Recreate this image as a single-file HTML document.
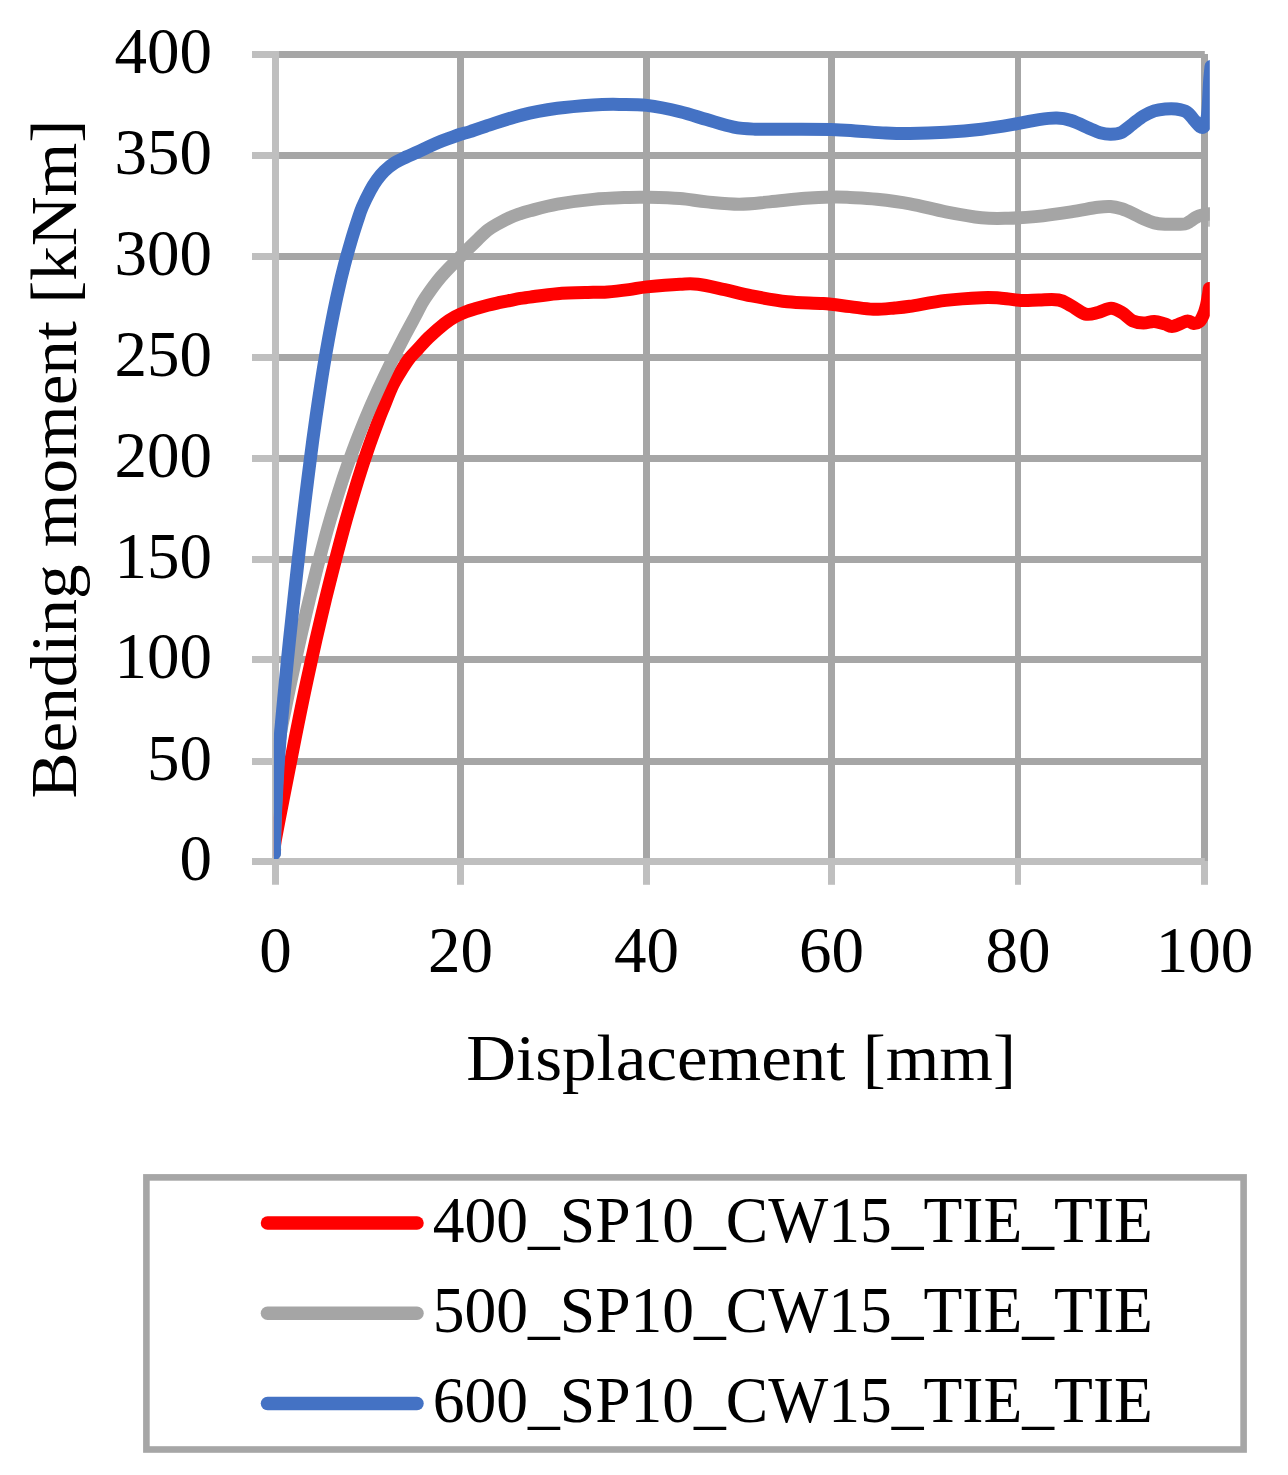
<!DOCTYPE html>
<html><head><meta charset="utf-8"><title>Chart</title>
<style>html,body{margin:0;padding:0;background:#fff}body{width:1288px;height:1475px;overflow:hidden;font-family:"Liberation Serif",serif}svg{display:block}</style>
</head><body>
<svg width="1288" height="1475" viewBox="0 0 1288 1475">
<rect width="1288" height="1475" fill="#fff"/>
<defs><clipPath id="pc"><rect x="273.9" y="40" width="935.9" height="819"/></clipPath></defs>
<line x1="275.5" y1="761.50" x2="1204.8" y2="761.50" stroke="#a6a6a6" stroke-width="7.0"/>
<line x1="275.5" y1="659.50" x2="1204.8" y2="659.50" stroke="#a6a6a6" stroke-width="7.0"/>
<line x1="275.5" y1="559.50" x2="1204.8" y2="559.50" stroke="#a6a6a6" stroke-width="7.0"/>
<line x1="275.5" y1="458.50" x2="1204.8" y2="458.50" stroke="#a6a6a6" stroke-width="7.0"/>
<line x1="275.5" y1="357.50" x2="1204.8" y2="357.50" stroke="#a6a6a6" stroke-width="7.0"/>
<line x1="275.5" y1="256.50" x2="1204.8" y2="256.50" stroke="#a6a6a6" stroke-width="7.0"/>
<line x1="275.5" y1="155.50" x2="1204.8" y2="155.50" stroke="#a6a6a6" stroke-width="7.0"/>
<line x1="275.5" y1="54.50" x2="1204.8" y2="54.50" stroke="#a6a6a6" stroke-width="7.0"/>
<line x1="460.50" y1="54.0" x2="460.50" y2="861.0" stroke="#a6a6a6" stroke-width="7.0"/>
<line x1="646.50" y1="54.0" x2="646.50" y2="861.0" stroke="#a6a6a6" stroke-width="7.0"/>
<line x1="831.50" y1="54.0" x2="831.50" y2="861.0" stroke="#a6a6a6" stroke-width="7.0"/>
<line x1="1018.00" y1="54.0" x2="1018.00" y2="861.0" stroke="#a6a6a6" stroke-width="6.0"/>
<line x1="1204.50" y1="54.0" x2="1204.50" y2="861.0" stroke="#a6a6a6" stroke-width="7.0"/>
<line x1="275.50" y1="51.0" x2="275.50" y2="884.8" stroke="#bfbfbf" stroke-width="7.0"/>
<line x1="252.0" y1="861.50" x2="1204.8" y2="861.50" stroke="#bfbfbf" stroke-width="7.0"/>
<line x1="252" y1="761.50" x2="275.5" y2="761.50" stroke="#bfbfbf" stroke-width="7.0"/>
<line x1="252" y1="659.50" x2="275.5" y2="659.50" stroke="#bfbfbf" stroke-width="7.0"/>
<line x1="252" y1="559.50" x2="275.5" y2="559.50" stroke="#bfbfbf" stroke-width="7.0"/>
<line x1="252" y1="458.50" x2="275.5" y2="458.50" stroke="#bfbfbf" stroke-width="7.0"/>
<line x1="252" y1="357.50" x2="275.5" y2="357.50" stroke="#bfbfbf" stroke-width="7.0"/>
<line x1="252" y1="256.50" x2="275.5" y2="256.50" stroke="#bfbfbf" stroke-width="7.0"/>
<line x1="252" y1="155.50" x2="275.5" y2="155.50" stroke="#bfbfbf" stroke-width="7.0"/>
<line x1="252" y1="54.50" x2="275.5" y2="54.50" stroke="#bfbfbf" stroke-width="7.0"/>
<line x1="460.50" y1="858.0" x2="460.50" y2="884.8" stroke="#bfbfbf" stroke-width="7.0"/>
<line x1="646.50" y1="858.0" x2="646.50" y2="884.8" stroke="#bfbfbf" stroke-width="7.0"/>
<line x1="831.50" y1="858.0" x2="831.50" y2="884.8" stroke="#bfbfbf" stroke-width="7.0"/>
<line x1="1018.00" y1="858.0" x2="1018.00" y2="884.8" stroke="#bfbfbf" stroke-width="6.0"/>
<line x1="1204.50" y1="861.0" x2="1204.50" y2="884.8" stroke="#bfbfbf" stroke-width="7.0"/>
<g clip-path="url(#pc)" fill="none" stroke-linecap="round" stroke-linejoin="round" stroke-width="13.0">
<path d="M274.6 850.0C274.7 848.5 273.8 849.3 275.2 841.0C276.6 832.7 280.4 813.5 283.0 800.0C285.6 786.5 288.3 773.3 290.9 760.0C293.5 746.7 296.1 733.3 298.8 720.0C301.5 706.7 304.2 693.3 307.1 680.0C310.0 666.7 312.9 653.3 315.9 640.0C318.9 626.7 322.1 613.3 325.3 600.0C328.6 586.7 331.9 573.3 335.4 560.0C338.9 546.7 342.4 533.3 346.1 520.0C349.9 506.7 354.3 491.7 357.9 480.0C361.5 468.3 364.2 460.0 367.7 450.0C371.1 440.0 375.9 427.2 378.6 420.0C381.3 412.8 381.4 412.8 383.8 407.0C386.2 401.2 389.7 391.6 392.8 385.2C395.9 378.8 399.5 373.4 402.3 368.9C405.1 364.4 407.1 361.3 409.7 358.0C412.3 354.7 414.6 352.6 417.8 349.2C421.0 345.8 424.3 341.7 428.7 337.5C433.1 333.3 439.9 327.3 444.3 323.8C448.7 320.3 451.6 318.6 455.2 316.6C458.8 314.6 462.5 313.1 466.1 311.7C469.7 310.3 473.4 309.3 477.0 308.2C480.6 307.1 484.2 306.1 487.8 305.2C491.4 304.3 495.1 303.5 498.7 302.7C502.3 301.9 506.0 301.2 509.6 300.5C513.2 299.8 517.0 299.0 520.4 298.4C523.8 297.8 523.8 297.9 530.0 297.1C536.2 296.3 546.9 294.5 557.4 293.7C567.9 292.9 584.9 292.6 593.2 292.3C601.6 292.0 601.5 292.4 607.5 292.0C613.5 291.6 622.4 290.5 629.0 289.6C635.6 288.8 638.4 287.8 646.9 286.9C655.4 286.0 671.5 284.6 680.0 284.2C688.5 283.8 690.4 283.3 697.9 284.2C705.4 285.1 715.8 287.7 724.7 289.6C733.7 291.6 741.2 293.9 751.6 295.9C762.0 297.9 775.5 300.5 787.4 301.8C799.3 303.1 812.8 302.8 823.2 303.6C833.6 304.4 841.6 305.7 850.0 306.6C858.4 307.6 865.8 309.1 873.3 309.3C880.8 309.5 888.7 308.5 894.8 308.0C900.9 307.5 901.5 307.6 910.0 306.3C918.5 305.0 933.9 301.8 945.8 300.4C957.7 299.0 972.6 298.1 981.6 297.7C990.6 297.3 992.9 297.6 999.5 298.0C1006.1 298.4 1014.4 300.1 1021.0 300.4C1027.6 300.7 1032.6 300.1 1038.9 300.0C1045.2 299.9 1053.2 299.1 1058.6 300.0C1064.0 300.9 1066.6 303.3 1071.1 305.7C1075.6 308.1 1080.9 313.0 1085.4 314.1C1089.9 315.2 1093.7 313.5 1098.0 312.5C1102.3 311.5 1107.0 308.3 1111.0 308.3C1115.0 308.3 1118.4 310.5 1122.0 312.6C1125.6 314.7 1129.0 319.1 1132.6 320.8C1136.2 322.5 1139.9 322.9 1143.5 323.0C1147.1 323.1 1150.7 321.2 1154.3 321.4C1157.9 321.6 1162.1 323.2 1165.2 324.0C1168.3 324.8 1169.2 326.9 1172.8 326.4C1176.4 325.9 1183.5 321.6 1187.0 321.1C1190.5 320.6 1191.4 323.3 1193.5 323.4C1195.6 323.5 1197.8 323.0 1199.5 321.5C1201.2 320.0 1202.3 317.2 1203.5 314.5C1204.7 311.8 1205.7 308.1 1206.5 305.0C1207.3 301.9 1207.7 298.8 1208.2 296.0C1208.7 293.2 1209.1 289.8 1209.3 288.5" stroke="#ff0000"/>
<path d="M274.5 853.5C274.6 849.6 274.5 840.6 274.8 830.0C275.1 819.4 275.5 804.8 276.3 790.0C277.1 775.2 277.9 754.3 279.4 741.0C280.9 727.7 283.1 720.2 285.1 710.0C287.1 699.8 288.7 691.7 291.2 680.0C293.7 668.3 296.9 653.3 299.9 640.0C302.9 626.7 306.0 613.3 309.2 600.0C312.4 586.7 315.6 573.3 319.1 560.0C322.6 546.7 326.2 533.3 330.1 520.0C334.0 506.7 338.7 491.7 342.5 480.0C346.3 468.3 349.4 460.0 353.1 450.0C356.8 440.0 360.8 430.0 364.9 420.0C369.0 410.0 373.4 400.0 378.0 390.0C382.6 380.0 387.8 369.2 392.3 360.0C396.8 350.8 401.2 342.5 405.1 335.0C409.0 327.5 412.6 321.1 415.9 315.0C419.2 308.9 420.6 305.0 424.8 298.7C429.0 292.4 434.8 284.1 440.8 277.0C446.8 269.9 454.7 262.4 460.7 256.3C466.7 250.2 472.5 244.5 477.0 240.2C481.5 235.8 484.2 233.0 487.8 230.2C491.4 227.4 495.1 225.5 498.7 223.4C502.3 221.3 506.0 219.3 509.6 217.7C513.2 216.1 517.0 214.8 520.4 213.6C523.8 212.4 523.8 212.4 530.0 210.8C536.2 209.2 546.9 206.1 557.4 204.2C567.9 202.3 581.3 200.5 593.2 199.4C605.1 198.3 620.0 197.8 629.0 197.4C638.0 197.1 638.4 197.1 646.9 197.3C655.4 197.5 670.0 197.8 680.0 198.6C690.0 199.4 696.9 201.0 706.8 201.9C716.6 202.8 728.6 204.2 739.1 204.2C749.6 204.2 758.5 202.9 769.5 201.9C780.5 200.9 794.9 199.1 805.3 198.3C815.7 197.5 824.6 197.2 832.1 197.1C839.6 196.9 842.5 197.1 850.0 197.4C857.5 197.8 866.9 198.1 876.9 199.2C886.9 200.3 898.5 201.7 910.0 203.8C921.5 205.9 933.9 209.5 945.8 211.8C957.7 214.1 971.2 216.6 981.6 217.7C992.0 218.8 999.5 218.4 1008.4 218.2C1017.3 218.0 1024.8 217.7 1035.3 216.6C1045.8 215.5 1060.7 213.4 1071.1 211.8C1081.5 210.2 1091.3 208.2 1097.9 207.3C1104.5 206.4 1106.5 206.2 1110.5 206.5C1114.5 206.8 1118.0 207.7 1121.7 208.8C1125.4 210.0 1129.0 211.7 1132.6 213.4C1136.2 215.1 1139.9 217.2 1143.5 218.8C1147.1 220.4 1150.7 222.0 1154.3 222.9C1157.9 223.8 1161.6 224.0 1165.2 224.2C1168.8 224.4 1172.8 224.2 1176.1 224.2C1179.4 224.2 1182.4 224.5 1184.8 224.0C1187.2 223.5 1188.4 222.4 1190.2 221.3C1192.0 220.2 1193.9 218.5 1195.7 217.5C1197.5 216.5 1198.6 215.8 1201.1 215.2C1203.6 214.6 1208.9 214.2 1210.5 214.0" stroke="#a5a5a5"/>
<path d="M274.5 853.5C274.5 851.6 274.4 847.6 274.5 842.0C274.6 836.4 274.9 827.0 275.2 820.0C275.5 813.0 275.6 810.0 276.2 800.0C276.8 790.0 277.6 773.3 278.5 760.0C279.4 746.7 280.5 733.3 281.7 720.0C282.9 706.7 284.2 693.3 285.5 680.0C286.8 666.7 288.1 653.3 289.5 640.0C290.9 626.7 292.4 613.3 293.8 600.0C295.2 586.7 296.7 573.3 298.2 560.0C299.7 546.7 301.2 533.3 302.8 520.0C304.4 506.7 306.0 493.3 307.7 480.0C309.4 466.7 311.0 453.3 312.8 440.0C314.6 426.7 316.5 413.3 318.5 400.0C320.5 386.7 322.5 373.3 324.8 360.0C327.1 346.7 329.8 331.7 332.1 320.0C334.4 308.3 336.3 299.2 338.4 290.0C340.4 280.8 342.2 273.3 344.4 265.0C346.6 256.7 349.2 247.5 351.4 240.0C353.6 232.5 355.9 225.5 357.7 220.0C359.5 214.5 360.2 211.9 362.3 207.0C364.4 202.1 367.8 195.2 370.2 190.7C372.6 186.2 374.6 183.1 377.0 179.8C379.4 176.5 381.3 174.0 384.3 171.1C387.3 168.2 391.6 164.9 395.2 162.6C398.8 160.2 402.5 158.7 406.1 157.0C409.7 155.3 413.4 153.9 417.0 152.3C420.6 150.7 424.2 148.9 427.8 147.2C431.4 145.5 435.1 143.8 438.7 142.3C442.3 140.8 446.0 139.5 449.6 138.2C453.2 136.9 457.0 135.4 460.4 134.3C463.8 133.2 465.8 132.9 470.0 131.6C474.2 130.2 477.2 128.9 485.8 126.2C494.4 123.5 509.7 118.1 521.6 115.1C533.5 112.1 545.5 110.0 557.4 108.3C569.3 106.6 582.8 105.6 593.2 104.9C603.6 104.2 611.0 104.3 620.0 104.4C629.0 104.5 636.9 104.2 646.9 105.4C656.9 106.6 670.0 109.3 680.0 111.7C690.0 114.1 697.8 117.0 706.8 119.6C715.8 122.2 725.6 125.5 733.7 127.1C741.8 128.7 746.2 128.8 755.2 129.2C764.2 129.5 774.7 129.2 787.4 129.2C800.1 129.2 819.3 129.1 831.2 129.4C843.1 129.7 849.9 130.6 859.0 131.2C868.1 131.8 877.3 132.6 885.8 133.0C894.3 133.4 900.0 133.6 910.0 133.5C920.0 133.4 933.9 133.0 945.8 132.3C957.7 131.6 969.7 130.6 981.6 129.2C993.5 127.8 1007.8 125.3 1017.4 123.7C1027.0 122.1 1032.3 120.5 1038.9 119.6C1045.5 118.7 1051.4 117.9 1056.8 118.1C1062.2 118.2 1065.7 118.8 1071.1 120.5C1076.5 122.2 1084.2 126.1 1089.0 128.2C1093.8 130.2 1096.3 131.8 1100.0 132.8C1103.7 133.8 1107.3 134.4 1110.9 134.3C1114.5 134.2 1118.1 134.0 1121.7 132.3C1125.3 130.6 1129.0 126.8 1132.6 124.1C1136.2 121.4 1139.9 118.2 1143.5 116.0C1147.1 113.8 1150.7 112.1 1154.3 110.9C1157.9 109.7 1161.6 109.3 1165.2 109.0C1168.8 108.7 1172.5 108.5 1176.1 109.0C1179.7 109.5 1183.9 110.2 1187.0 112.2C1190.1 114.2 1192.4 118.3 1194.6 120.7C1196.8 123.1 1198.5 125.5 1200.0 126.5C1201.5 127.5 1202.4 127.9 1203.5 127.0C1204.6 126.1 1205.8 123.8 1206.5 121.0C1207.2 118.2 1207.5 116.4 1208.0 110.0C1208.5 103.6 1209.0 89.8 1209.5 82.6C1210.0 75.3 1210.8 69.2 1211.0 66.5" stroke="#4472c4"/>
<rect x="1208.3" y="207.2" width="1.5" height="19.5" fill="#a5a5a5"/>
</g>
<g font-family="'Liberation Serif', serif" font-size="65" fill="#000">
<text x="212.0" y="880.3" text-anchor="end">0</text>
<text x="212.0" y="780.3" text-anchor="end">50</text>
<text x="212.0" y="678.3" text-anchor="end">100</text>
<text x="212.0" y="578.3" text-anchor="end">150</text>
<text x="212.0" y="477.3" text-anchor="end">200</text>
<text x="212.0" y="376.3" text-anchor="end">250</text>
<text x="212.0" y="275.3" text-anchor="end">300</text>
<text x="212.0" y="174.3" text-anchor="end">350</text>
<text x="212.0" y="73.3" text-anchor="end">400</text>
<text x="275.5" y="972.2" text-anchor="middle">0</text>
<text x="460.5" y="972.2" text-anchor="middle">20</text>
<text x="646.5" y="972.2" text-anchor="middle">40</text>
<text x="831.5" y="972.2" text-anchor="middle">60</text>
<text x="1018.0" y="972.2" text-anchor="middle">80</text>
<text x="1204.5" y="972.2" text-anchor="middle">100</text>
<text x="466.3" y="1079.5" textLength="549.6" lengthAdjust="spacingAndGlyphs">Displacement [mm]</text>
<text transform="translate(75.5,798.5) rotate(-90)" textLength="678.8" lengthAdjust="spacingAndGlyphs">Bending moment [kNm]</text>
<line x1="267.5" y1="1223.1" x2="417" y2="1223.1" stroke="#ff0000" stroke-width="13.5" stroke-linecap="round"/>
<text x="432.7" y="1241.9" textLength="720.2" lengthAdjust="spacingAndGlyphs">400_SP10_CW15_TIE_TIE</text>
<line x1="267.5" y1="1313.2" x2="417" y2="1313.2" stroke="#a5a5a5" stroke-width="13.5" stroke-linecap="round"/>
<text x="432.7" y="1332.0" textLength="720.2" lengthAdjust="spacingAndGlyphs">500_SP10_CW15_TIE_TIE</text>
<line x1="267.5" y1="1403.4" x2="417" y2="1403.4" stroke="#4472c4" stroke-width="13.5" stroke-linecap="round"/>
<text x="432.7" y="1422.2" textLength="720.2" lengthAdjust="spacingAndGlyphs">600_SP10_CW15_TIE_TIE</text>
</g>
<rect x="146.4" y="1177.4" width="1097.2" height="272.1" fill="none" stroke="#a6a6a6" stroke-width="6.6"/>
</svg>
</body></html>
